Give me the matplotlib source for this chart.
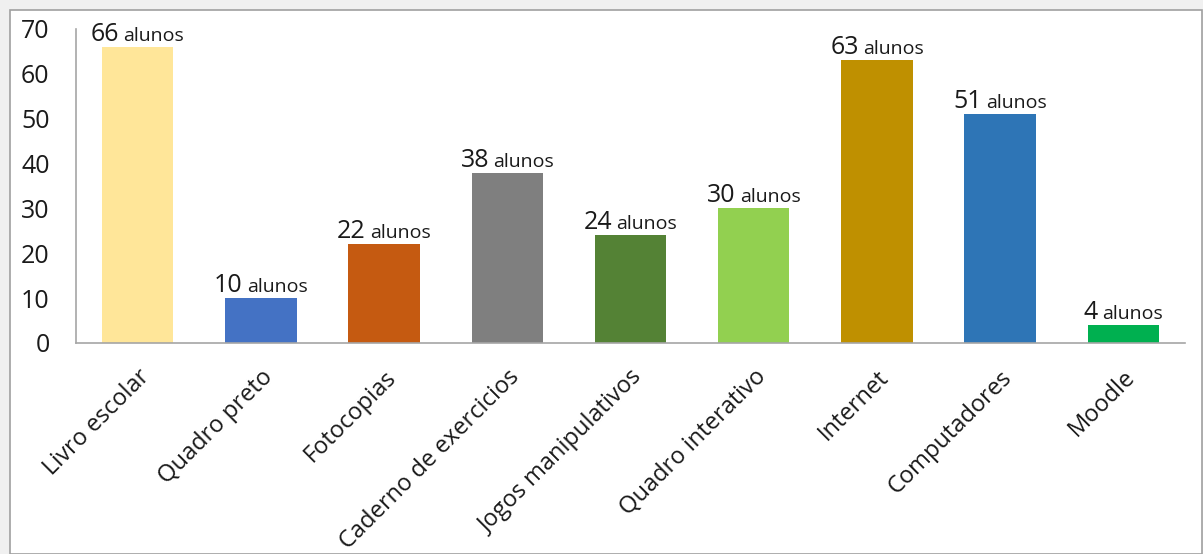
import matplotlib

matplotlib.use("Agg")

import matplotlib.pyplot as plt
from matplotlib.offsetbox import AnnotationBbox, HPacker, TextArea
from matplotlib.patches import Rectangle

plt.rcParams["font.family"] = ["Open Sans", "DejaVu Sans"]

categories = [
    "Livro escolar",
    "Quadro preto",
    "Fotocopias",
    "Caderno de exercicios",
    "Jogos manipulativos",
    "Quadro interativo",
    "Internet",
    "Computadores",
    "Moodle",
]
alunos = [66, 10, 22, 38, 24, 30, 63, 51, 4]
bar_colors = [
    "#FFE699",
    "#4472C4",
    "#C55A11",
    "#7F7F7F",
    "#548235",
    "#92D050",
    "#BF9000",
    "#2E75B6",
    "#00B050",
]
y_ticks = [0, 10, 20, 30, 40, 50, 60, 70]

W, H = 1203, 554
fig = plt.figure(figsize=(W / 100, H / 100), dpi=100, facecolor="#F0F0F0")

# white chart area with a thin grey frame, kept behind the axes
fig.patches.append(
    Rectangle((10 / W, 0), (1202 - 10) / W, (H - 10) / H, transform=fig.transFigure,
              facecolor="white", edgecolor="#A0A0A0", linewidth=1.2, zorder=-1)
)

ax = fig.add_axes([76 / W, (H - 343) / H, (1185 - 76) / W, (343 - 29) / H])
ax.set_facecolor("none")

x = range(len(categories))
bars = ax.bar(x, alunos, width=0.58, color=bar_colors)

# value labels: big number + smaller "alunos", centred together over each bar
for bar, value in zip(bars, alunos):
    cx = bar.get_x() + bar.get_width() / 2
    label = HPacker(
        children=[
            TextArea(f"{value}", textprops=dict(fontsize=18, color="#1A1A1A")),
            TextArea("alunos", textprops=dict(fontsize=14, color="#1A1A1A")),
        ],
        align="baseline", pad=0, sep=3,
    )
    ax.add_artist(AnnotationBbox(
        label, (cx, value), xybox=(0, 0), xycoords="data", boxcoords="offset points",
        box_alignment=(0.5, 0), frameon=False, pad=0,
    ))

ax.set_xlim(-0.5, len(categories) - 0.5)
ax.set_ylim(0, 70)
ax.set_yticks(y_ticks)
ax.tick_params(axis="y", length=0, pad=19, labelsize=18, labelcolor="#1A1A1A")
ax.set_xticks(list(x))
ax.set_xticklabels(categories, rotation=45, ha="right", rotation_mode="anchor",
                   fontsize=17, color="#1A1A1A")
ax.tick_params(axis="x", length=0, pad=16)

for side in ("top", "right"):
    ax.spines[side].set_visible(False)
for side in ("left", "bottom"):
    ax.spines[side].set_color("#A6A6A6")
    ax.spines[side].set_linewidth(1.2)

fig.savefig("out.png", dpi=100, facecolor=fig.get_facecolor())
